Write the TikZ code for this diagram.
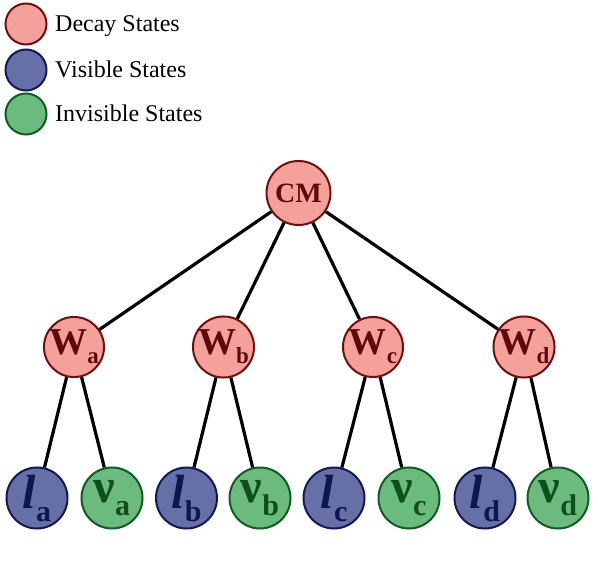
\documentclass[tikz,border=0pt]{standalone}
\usepackage{fontspec}
\setmainfont{Liberation Serif}

\definecolor{decayfill}{HTML}{F4A19B}
\definecolor{decayline}{HTML}{6E1010}
\definecolor{decaytext}{HTML}{5E0A0A}
\definecolor{visfill}{HTML}{6670A6}
\definecolor{visline}{HTML}{12185A}
\definecolor{vistext}{HTML}{0F1550}
\definecolor{invfill}{HTML}{6BBA7E}
\definecolor{invline}{HTML}{115C25}
\definecolor{invtext}{HTML}{0E4F1C}

% labels: W boson, charged lepton, neutrino with a dropped subscript
\newcommand\wlab[1]{\bfseries\fontsize{38}{38}\selectfont W\raisebox{-9pt}{\fontsize{23}{23}\selectfont #1}}
\newcommand\llab[1]{\bfseries\fontsize{48}{48}\selectfont\itshape l\upshape\raisebox{-13pt}{\fontsize{30}{30}\selectfont #1}}
\newcommand\nlab[1]{\bfseries\fontsize{48}{48}\selectfont ν\raisebox{-13pt}{\fontsize{30}{30}\selectfont #1}}

\begin{document}
\begin{tikzpicture}[x=1pt,y=-1pt,
  state/.style={circle, inner sep=0pt, line width=2pt},
  decay/.style={state, fill=decayfill, draw=decayline, text=decaytext, minimum size=60pt},
  visible/.style={state, fill=visfill, draw=visline, text=vistext, minimum size=61pt},
  invisible/.style={state, fill=invfill, draw=invline, text=invtext, minimum size=61pt},
  keydot/.style={circle, inner sep=0pt, line width=2pt, minimum size=41pt},
  keytext/.style={anchor=base west, inner sep=0pt, font=\fontsize{24}{24}\selectfont},
  link/.style={line width=3.2pt, black}]
\useasboundingbox (0,0) rectangle (598,575);

% legend
\node[keydot, fill=decayfill, draw=decayline] (k1) at (26,24) {};
\node[keytext] (t1) at (55,32) {Decay States};
\node[keydot, fill=visfill, draw=visline] (k2) at (26,70) {};
\node[keytext] (t2) at (55,78) {Visible States};
\node[keydot, fill=invfill, draw=invline] (k3) at (26,114) {};
\node[keytext] (t3) at (55,122) {Invisible States};

% decay tree
\node[decay, minimum size=64pt, font=\bfseries\fontsize{28}{28}\selectfont] (cm) at (298.5,193) {CM};

\node[decay] (wa) at (74,347) {\wlab{a}};
\node[decay] (wb) at (223.5,347) {\wlab{b}};
\node[decay] (wc) at (373,347) {\wlab{c}};
\node[decay] (wd) at (524,347) {\wlab{d}};

\node[visible]   (la) at (37,498)  {\llab{a}};
\node[invisible] (na) at (112,498) {\nlab{a}};
\node[visible]   (lb) at (186.5,498) {\llab{b}};
\node[invisible] (nb) at (260,498) {\nlab{b}};
\node[visible]   (lc) at (334,498) {\llab{c}};
\node[invisible] (nc) at (409,498) {\nlab{c}};
\node[visible]   (ld) at (485,498) {\llab{d}};
\node[invisible] (nd) at (558,498) {\nlab{d}};

\foreach \w in {wa,wb,wc,wd} \draw[link] (cm) -- (\w);
\draw[link] (wa) -- (la); \draw[link] (wa) -- (na);
\draw[link] (wb) -- (lb); \draw[link] (wb) -- (nb);
\draw[link] (wc) -- (lc); \draw[link] (wc) -- (nc);
\draw[link] (wd) -- (ld); \draw[link] (wd) -- (nd);
\end{tikzpicture}
\end{document}
